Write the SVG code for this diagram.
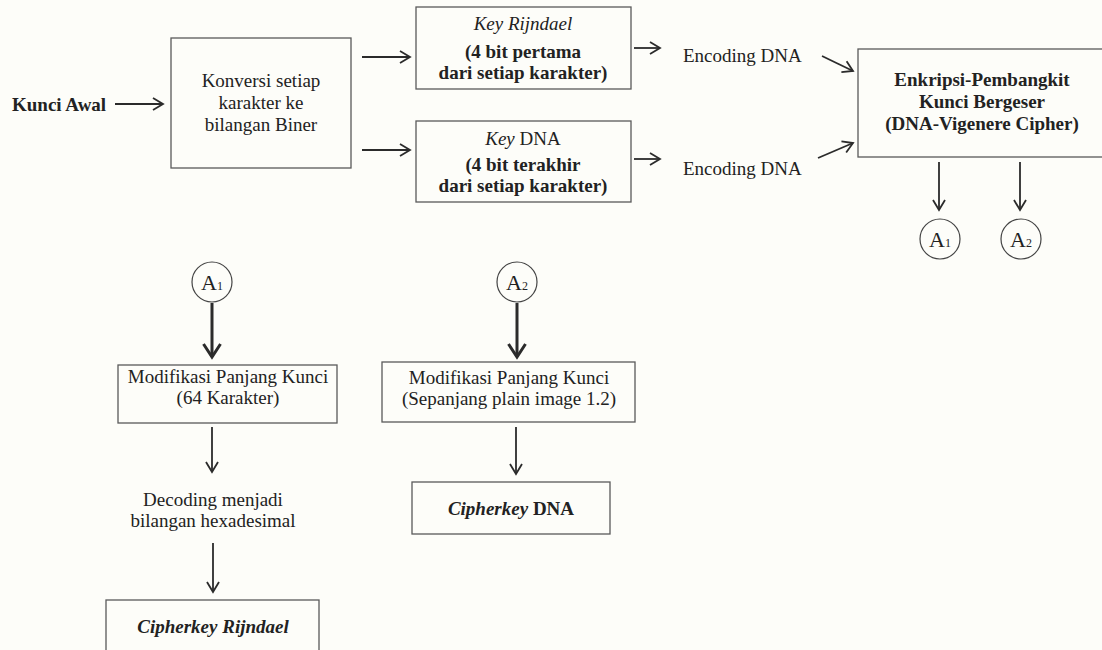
<svg xmlns="http://www.w3.org/2000/svg" width="1102" height="650" viewBox="0 0 1102 650">
  <defs>
    <marker id="head" markerUnits="userSpaceOnUse" markerWidth="16" markerHeight="16" viewBox="-13 -8 16 16" refX="0" refY="0" orient="auto">
      <path d="M -10 -6 L 0 0 L -10 6" fill="none" stroke="#2b2b2b" stroke-width="1.8" stroke-linejoin="miter"/>
    </marker>
    <marker id="headBold" markerUnits="userSpaceOnUse" markerWidth="22" markerHeight="22" viewBox="-18 -11 22 22" refX="0" refY="0" orient="auto">
      <path d="M -13 -8.5 L 0 0 L -13 8.5" fill="none" stroke="#2b2b2b" stroke-width="3" stroke-linejoin="miter"/>
    </marker>
  </defs>
  <style>
    text { font-family: "Liberation Serif", "Times New Roman", serif; font-size: 19px; fill: #222; }
    .c { text-anchor: middle; }
    .b { font-weight: bold; }
    .i { font-style: italic; }
    .box { fill: none; stroke: #5a5a5a; stroke-width: 1.3; }
    .ring { fill: none; stroke: #444; stroke-width: 1.2; }
    .arr { fill: none; stroke: #2b2b2b; stroke-width: 1.8; marker-end: url(#head); }
    .arrB { fill: none; stroke: #2b2b2b; stroke-width: 3; marker-end: url(#headBold); }
    .sub { font-size: 12px; }
    .big { font-size: 22px; }
  </style>

  <rect width="1102" height="650" fill="#fdfdf9"/>

  <!-- start label -->
  <g id="kunci-awal">
    <text class="b" x="12" y="111">Kunci Awal</text>
  </g>

  <g id="konversi">
    <rect class="box" x="171" y="38" width="180" height="130"/>
    <text class="c" x="261" y="87">Konversi setiap</text>
    <text class="c" x="261" y="109">karakter ke</text>
    <text class="c" x="261" y="131">bilangan Biner</text>
  </g>

  <g id="key-rijndael">
    <rect class="box" x="416" y="7" width="215" height="82"/>
    <text class="c i" x="523" y="30">Key Rijndael</text>
    <text class="c b" x="523" y="58">(4 bit pertama</text>
    <text class="c b" x="523" y="79">dari setiap karakter)</text>
  </g>

  <g id="key-dna">
    <rect class="box" x="416" y="121" width="215" height="81"/>
    <text class="c" x="523" y="145"><tspan class="i">Key</tspan> DNA</text>
    <text class="c b" x="523" y="171">(4 bit terakhir</text>
    <text class="c b" x="523" y="192">dari setiap karakter)</text>
  </g>

  <g id="encoding-1">
    <text x="683" y="62">Encoding DNA</text>
  </g>
  <g id="encoding-2">
    <text x="683" y="175">Encoding DNA</text>
  </g>

  <g id="enkripsi">
    <rect class="box" x="858" y="49" width="250" height="108"/>
    <text class="c b" x="982" y="86">Enkripsi-Pembangkit</text>
    <text class="c b" x="982" y="108">Kunci Bergeser</text>
    <text class="c b" x="982" y="130">(DNA-Vigenere Cipher)</text>
  </g>

  <g id="out-a1">
    <circle class="ring" cx="940" cy="239" r="20"/>
    <text class="c" x="940" y="247"><tspan class="big">A</tspan><tspan class="sub">1</tspan></text>
  </g>
  <g id="out-a2">
    <circle class="ring" cx="1021" cy="239" r="20"/>
    <text class="c" x="1021" y="247"><tspan class="big">A</tspan><tspan class="sub">2</tspan></text>
  </g>

  <g id="in-a1">
    <circle class="ring" cx="212" cy="282" r="20"/>
    <text class="c" x="212" y="290"><tspan class="big">A</tspan><tspan class="sub">1</tspan></text>
  </g>
  <g id="in-a2">
    <circle class="ring" cx="517" cy="282" r="20"/>
    <text class="c" x="517" y="290"><tspan class="big">A</tspan><tspan class="sub">2</tspan></text>
  </g>

  <g id="modifikasi-64">
    <rect class="box" x="118" y="365" width="219" height="58"/>
    <text class="c" x="228" y="383">Modifikasi Panjang Kunci</text>
    <text class="c" x="228" y="404">(64 Karakter)</text>
  </g>

  <g id="decoding">
    <text class="c" x="213" y="506">Decoding menjadi</text>
    <text class="c" x="213" y="527">bilangan hexadesimal</text>
  </g>

  <g id="cipherkey-rijndael">
    <rect class="box" x="106" y="600" width="213" height="60"/>
    <text class="c b i" x="213" y="633">Cipherkey Rijndael</text>
  </g>

  <g id="modifikasi-plain">
    <rect class="box" x="382" y="362" width="253" height="60"/>
    <text class="c" x="509" y="384">Modifikasi Panjang Kunci</text>
    <text class="c" x="509" y="405">(Sepanjang plain image 1.2)</text>
  </g>

  <g id="cipherkey-dna">
    <rect class="box" x="412" y="482" width="198" height="52"/>
    <text class="c b" x="511" y="515"><tspan class="i">Cipherkey</tspan> DNA</text>
  </g>

  <!-- connectors -->
  <g id="connectors">
    <line class="arr" x1="115" y1="104" x2="163" y2="104"/>
    <line class="arr" x1="362" y1="57" x2="410" y2="57"/>
    <line class="arr" x1="362" y1="150" x2="410" y2="150"/>
    <line class="arr" x1="634" y1="48" x2="660" y2="48"/>
    <line class="arr" x1="634" y1="159" x2="660" y2="159"/>
    <line class="arr" x1="822" y1="56" x2="853" y2="71"/>
    <line class="arr" x1="818" y1="158" x2="853" y2="143"/>
    <line class="arr" x1="939" y1="162" x2="939" y2="210"/>
    <line class="arr" x1="1020" y1="162" x2="1020" y2="210"/>
    <line class="arrB" x1="212" y1="303" x2="212" y2="357"/>
    <line class="arrB" x1="517" y1="303" x2="517" y2="357"/>
    <line class="arr" x1="212" y1="427" x2="212" y2="472"/>
    <line class="arr" x1="213" y1="543" x2="213" y2="592"/>
    <line class="arr" x1="516" y1="427" x2="516" y2="474"/>
  </g>
</svg>
